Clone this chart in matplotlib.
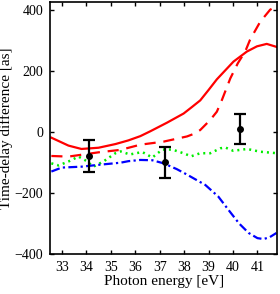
import matplotlib
matplotlib.use("Agg")
import matplotlib.pyplot as plt

plt.rcParams["font.family"] = "Liberation Serif"

# Red solid curve
red_solid_x = [32.57, 33.27, 33.80, 34.50, 35.19, 35.72, 36.21, 36.62, 37.30, 37.98,
               38.30, 38.66, 39.00, 39.34, 40.02, 40.57, 40.98, 41.38, 41.79]
red_solid_y = [-19, -45, -56, -52, -40, -28, -14, 2, 30, 60,
               80, 103, 137, 172, 230, 263, 280, 288, 278]

# Red dashed curve
red_dash_x = [32.57, 33.27, 34.50, 35.40, 36.21, 37.16, 38.12, 38.45, 38.66, 39.07,
              39.34, 39.55, 39.89, 40.20, 40.50, 40.70, 41.11, 41.52, 41.80]
red_dash_y = [-79, -81, -67, -59, -42, -32, -15, -5, 6, 39,
              66, 105, 175, 225, 263, 302, 360, 400, 412]

# Green dotted curve
green_x = [32.57, 32.87, 33.27, 33.68, 34.00, 34.29, 34.70, 35.19, 35.40, 35.78,
           36.29, 36.70, 37.11, 37.52, 37.97, 38.29, 38.66, 39.07, 39.48, 39.68,
           40.01, 40.58, 41.11, 41.80]
green_y = [-103, -110, -97, -81, -95, -114, -97, -70, -64, -74,
           -66, -84, -58, -58, -70, -80, -70, -70, -54, -51,
           -62, -56, -65, -70]

# Blue dash-dot curve
blue_x = [32.57, 32.99, 33.80, 34.50, 35.40, 35.72, 36.21, 36.70, 37.16, 37.70,
          38.12, 38.87, 39.40, 39.82, 40.25, 40.64, 41.00, 41.25, 41.50, 41.78]
blue_y = [-130, -117, -114, -108, -101, -96, -92, -93, -103, -122,
          -140, -174, -212, -256, -300, -331, -348, -351, -345, -331]

# Measured points with error bars
exp_x = [34.09, 37.20, 40.29]
exp_y = [-79, -100, 10]
exp_err = [51, 50, 50]

fig = plt.figure(figsize=(2.8, 2.94), dpi=100)
ax = fig.add_axes([0.179, 0.136, 0.812, 0.857])

ax.plot(red_solid_x, red_solid_y, color="#ff0000", lw=1.6)
ax.plot(red_dash_x, red_dash_y, color="#ff0000", lw=1.6, dashes=(5, 3.5))
ax.plot(green_x, green_y, color="#00ee00", lw=1.8, linestyle=(0, (0.8, 1.6)),
        dash_capstyle="butt")
ax.plot(blue_x, blue_y, color="#0000ff", lw=1.6, linestyle=(0, (4, 1.5, 1, 1.5)))
ax.errorbar(exp_x, exp_y, yerr=exp_err, fmt="o", color="black", ms=4,
            elinewidth=1.6, capsize=4, capthick=1.6)

ax.set_xlim(32.52, 41.82)
ax.set_ylim(-400, 425)
ax.set_xticks(range(33, 42))
ax.set_yticks([-400, -200, 0, 200, 400])
ax.tick_params(direction="in", top=True, right=True, length=3, width=1,
               labelsize=10, pad=5)
for s in ax.spines.values():
    s.set_linewidth(1.2)

ax.set_xlabel("Photon energy [eV]", fontsize=11, labelpad=1)
ax.set_ylabel("Time-delay difference [as]", fontsize=11, labelpad=1)

fig.savefig("out.png", dpi=100)
